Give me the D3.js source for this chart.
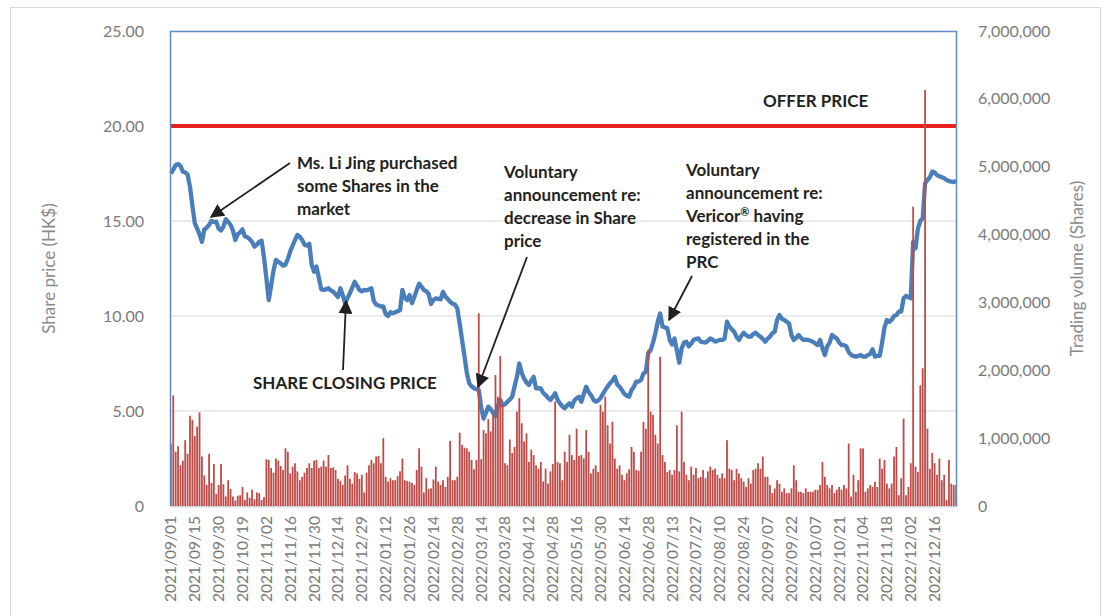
<!DOCTYPE html>
<html>
<head>
<meta charset="utf-8">
<script src="https://cdn.jsdelivr.net/npm/d3@7"></script>
<style>
  body { margin: 0; background: #fff; }
  svg text { font-family: Lato, "Open Sans", sans-serif; }
</style>
</head>
<body>
<div id="chart"></div>
<script>
// x-axis labels: one every 10 trading days
const dateLabels = [
  "2021/09/01", "2021/09/15", "2021/09/30", "2021/10/19", "2021/11/02", "2021/11/16",
  "2021/11/30", "2021/12/14", "2021/12/29", "2022/01/12", "2022/01/26", "2022/02/14",
  "2022/02/28", "2022/03/14", "2022/03/28", "2022/04/12", "2022/04/28", "2022/05/16",
  "2022/05/30", "2022/06/14", "2022/06/28", "2022/07/13", "2022/07/27", "2022/08/10",
  "2022/08/24", "2022/09/07", "2022/09/22", "2022/10/07", "2022/10/21", "2022/11/04",
  "2022/11/18", "2022/12/02", "2022/12/16"
];

// daily closing price (HK$)
const closePrice = [
  17.50, 17.70, 17.95, 18.00, 17.90, 17.60, 17.55, 17.45, 16.80, 15.80,
  14.90, 14.60, 14.30, 13.90, 14.55, 14.65, 14.80, 15.00, 14.95, 14.97,
  14.60, 14.50, 14.70, 15.10, 14.95, 14.80, 14.50, 14.00, 14.30, 14.40,
  14.56, 14.20, 14.15, 14.05, 13.90, 13.65, 13.75, 13.90, 13.96, 13.10,
  12.00, 10.84, 11.60, 12.40, 12.95, 12.85, 12.77, 12.65, 12.70, 13.00,
  13.40, 13.70, 14.00, 14.26, 14.17, 14.00, 13.75, 13.70, 13.80, 12.70,
  12.33, 12.60, 12.00, 11.40, 11.37, 11.40, 11.46, 11.35, 11.28, 11.15,
  11.00, 11.46, 11.10, 10.67, 10.95, 11.20, 11.50, 11.80, 11.60, 11.37,
  11.30, 11.37, 11.35, 11.40, 11.46, 10.80, 10.60, 10.55, 10.50, 10.50,
  10.10, 10.00, 10.20, 10.15, 10.20, 10.25, 10.30, 11.37, 10.95, 10.84,
  11.10, 10.67, 11.00, 11.37, 11.70, 11.55, 11.37, 11.30, 11.16, 10.63,
  10.85, 10.93, 10.90, 10.88, 11.28, 11.02, 10.90, 10.75, 10.65, 10.60,
  10.40, 9.60, 8.74, 7.90, 7.00, 6.46, 6.30, 6.20, 6.15, 6.10,
  5.20, 4.60, 4.90, 5.23, 5.10, 4.90, 4.74, 5.30, 5.58, 5.30,
  5.35, 5.49, 5.60, 5.75, 6.30, 6.80, 7.50, 7.00, 6.70, 6.50,
  6.37, 6.60, 6.80, 6.19, 6.20, 6.19, 5.95, 5.84, 5.70, 5.58,
  5.75, 5.93, 5.60, 5.40, 5.25, 5.14, 5.30, 5.40, 5.23, 5.55,
  5.67, 5.75, 5.49, 5.90, 6.28, 6.00, 5.84, 5.60, 5.49, 5.55,
  5.67, 5.90, 6.10, 6.30, 6.46, 6.60, 6.80, 6.40, 6.28, 6.10,
  5.90, 5.80, 5.75, 6.10, 6.28, 6.54, 6.55, 6.63, 6.98, 7.07,
  8.04, 8.20, 8.60, 9.09, 9.70, 10.14, 9.44, 9.40, 9.35, 8.74,
  8.50, 8.82, 8.20, 7.54, 8.30, 8.60, 8.65, 8.40, 8.55, 8.74,
  8.80, 8.82, 8.65, 8.62, 8.60, 8.70, 8.82, 8.75, 8.65, 8.70,
  8.74, 8.74, 8.80, 9.70, 9.44, 9.30, 9.17, 8.90, 8.74, 8.95,
  9.12, 9.00, 8.91, 8.91, 9.05, 9.12, 9.00, 8.91, 8.80, 8.65,
  8.80, 8.91, 9.10, 9.17, 9.80, 10.05, 9.85, 9.79, 9.70, 9.61,
  9.00, 8.74, 8.85, 9.00, 8.85, 8.74, 8.75, 8.74, 8.70, 8.65,
  8.55, 8.47, 8.74, 8.30, 7.95, 8.40, 8.60, 9.00, 8.90, 8.82,
  8.60, 8.47, 8.47, 8.40, 8.10, 7.95, 7.90, 7.86, 7.90, 7.95,
  7.86, 7.86, 7.95, 8.00, 8.25, 7.86, 7.90, 7.90, 8.60, 9.40,
  9.79, 9.70, 9.80, 10.00, 10.05, 10.23, 10.23, 10.93, 11.05, 11.00,
  10.93, 13.90, 13.56, 14.60, 15.00, 15.14, 16.98, 17.16, 17.30, 17.60,
  17.55, 17.42, 17.35, 17.30, 17.25, 17.16, 17.10, 17.07, 17.05, 17.10
];

// daily trading volume, millions of shares
const volumeMillions = [
  0.92, 1.63, 0.80, 0.88, 0.60, 0.67, 0.97, 0.77, 1.33, 1.27,
  1.03, 1.17, 1.38, 0.73, 0.45, 0.31, 0.77, 0.34, 0.62, 0.18,
  0.31, 0.62, 0.32, 0.14, 0.38, 0.25, 0.14, 0.08, 0.15, 0.16,
  0.28, 0.09, 0.20, 0.12, 0.24, 0.10, 0.20, 0.19, 0.09, 0.13,
  0.69, 0.68, 0.56, 0.49, 0.70, 0.67, 0.59, 0.53, 0.85, 0.80,
  0.48, 0.58, 0.63, 0.51, 0.38, 0.43, 0.49, 0.56, 0.63, 0.56,
  0.67, 0.68, 0.56, 0.58, 0.67, 0.58, 0.75, 0.56, 0.57, 0.53,
  0.40, 0.37, 0.31, 0.45, 0.60, 0.40, 0.33, 0.50, 0.48, 0.40,
  0.46, 0.20, 0.49, 0.60, 0.68, 0.63, 0.73, 0.74, 0.63, 1.00,
  0.43, 0.36, 0.41, 0.38, 0.38, 0.44, 0.51, 0.70, 0.38, 0.37,
  0.36, 0.34, 0.31, 0.53, 0.85, 0.58, 0.20, 0.41, 0.25, 0.26,
  0.39, 0.58, 0.36, 0.31, 0.38, 0.28, 0.43, 0.96, 0.38, 0.38,
  0.43, 1.08, 0.90, 0.86, 0.85, 0.80, 0.68, 0.54, 0.68, 2.84,
  0.69, 1.12, 1.07, 1.28, 1.10, 1.34, 1.93, 1.61, 2.21, 1.49,
  0.63, 0.60, 0.98, 0.78, 0.87, 1.39, 1.59, 1.22, 0.95, 1.07,
  0.65, 0.83, 0.75, 0.60, 0.55, 0.65, 0.36, 0.55, 0.33, 0.51,
  0.62, 1.54, 0.65, 0.63, 0.38, 0.80, 0.65, 1.05, 0.75, 0.68,
  1.14, 0.74, 0.75, 0.70, 1.12, 0.80, 0.48, 0.55, 0.60, 0.50,
  1.49, 1.39, 1.61, 1.19, 0.92, 1.24, 0.70, 0.55, 0.60, 0.46,
  0.38, 0.48, 0.54, 0.87, 0.80, 0.53, 0.52, 0.80, 1.24, 1.14,
  2.30, 1.39, 1.34, 1.05, 0.92, 2.20, 0.75, 0.65, 0.50, 0.53,
  0.46, 0.53, 1.19, 0.51, 1.39, 0.65, 0.46, 0.38, 0.58, 0.46,
  0.56, 0.41, 0.43, 0.53, 0.41, 0.51, 0.58, 0.53, 0.55, 0.46,
  0.41, 0.48, 0.41, 0.97, 0.55, 0.53, 0.38, 0.55, 0.48, 0.41,
  0.36, 0.28, 0.41, 0.33, 0.53, 0.55, 0.63, 0.55, 0.73, 0.43,
  0.43, 0.31, 0.19, 0.26, 0.38, 0.33, 0.21, 0.26, 0.19, 0.19,
  0.26, 0.60, 0.38, 0.21, 0.21, 0.19, 0.26, 0.21, 0.21, 0.21,
  0.24, 0.24, 0.31, 0.65, 0.43, 0.31, 0.26, 0.31, 0.19, 0.24,
  0.28, 0.24, 0.31, 0.26, 0.92, 0.14, 0.46, 0.21, 0.38, 0.85,
  0.85, 0.21, 0.26, 0.31, 0.28, 0.36, 0.28, 0.70, 0.55, 0.68,
  0.33, 0.26, 0.33, 0.73, 0.87, 0.16, 0.41, 1.29, 0.16, 0.28,
  0.63, 4.41, 0.58, 0.50, 1.78, 2.03, 6.13, 1.14, 0.55, 0.78,
  0.63, 0.46, 0.70, 0.38, 0.46, 0.09, 0.68, 0.33, 0.31, 0.31
];

const offerPrice = 20;
const priceTicks = [0, 5, 10, 15, 20, 25];
const volumeTicks = [0, 1e6, 2e6, 3e6, 4e6, 5e6, 6e6, 7e6];

// annotation texts (a line may be split in parts; sup = superscript)
const notes = [
  {lines: [["Ms. Li Jing purchased"], ["some Shares in the"], ["market"]], x: 297, y: 169},
  {lines: [["Voluntary"], ["announcement re:"], ["decrease in Share"], ["price"]], x: 504, y: 178},
  {lines: [["Voluntary"], ["announcement re:"], ["Vericor", "\u00ae", " having"], ["registered in the"], ["PRC"]], x: 686, y: 176},
  {lines: [["OFFER PRICE"]], x: 763, y: 107},
  {lines: [["SHARE CLOSING PRICE"]], x: 253, y: 389}
];
const arrows = [
  {x1: 290, y1: 163, x2: 211, y2: 217},
  {x1: 343, y1: 370, x2: 346, y2: 301},
  {x1: 527, y1: 257, x2: 478, y2: 387},
  {x1: 692, y1: 276, x2: 669, y2: 320}
];

const width = 1104, height = 616;
const margin = {top: 31, right: 147, bottom: 110, left: 170};
const innerW = width - margin.left - margin.right;
const innerH = height - margin.top - margin.bottom;

const svg = d3.select("#chart").append("svg")
  .attr("width", width)
  .attr("height", height);

// outer chart border
svg.append("rect")
  .attr("x", 10.5).attr("y", 7.5)
  .attr("width", 1090).attr("height", 640)
  .attr("fill", "none")
  .attr("stroke", "#d9d9d9");

const g = svg.append("g").attr("transform", `translate(${margin.left},${margin.top})`);

const x = d3.scaleBand()
  .domain(d3.range(closePrice.length))
  .range([0, innerW])
  .paddingInner(0.25);

const yPrice = d3.scaleLinear().domain([0, 25]).range([innerH, 0]);
const yVol = d3.scaleLinear().domain([0, 7e6]).range([innerH, 0]);

// gridlines
g.append("g")
  .selectAll("line")
  .data(priceTicks.filter(d => d > 0 && d < 25))
  .join("line")
  .attr("x1", 0).attr("x2", innerW)
  .attr("y1", d => yPrice(d)).attr("y2", d => yPrice(d))
  .attr("stroke", "#d9d9d9")
  .attr("stroke-width", 1);

// left axis
const leftAxis = g.append("g")
  .call(d3.axisLeft(yPrice).tickValues(priceTicks)
    .tickFormat(d => d === 0 ? "0" : d.toFixed(2)).tickSize(0).tickPadding(26));
leftAxis.select(".domain").remove();
leftAxis.selectAll("text").attr("fill", "#7a7a7a").style("font-size", "16px");

// right axis
const rightAxis = g.append("g")
  .attr("transform", `translate(${innerW},0)`)
  .call(d3.axisRight(yVol).tickValues(volumeTicks).tickFormat(d3.format(",")).tickSize(0).tickPadding(21));
rightAxis.select(".domain").remove();
rightAxis.selectAll("text").attr("fill", "#7a7a7a").style("font-size", "16px");

// bottom axis
const bottomAxis = g.append("g")
  .attr("transform", `translate(0,${innerH})`)
  .call(d3.axisBottom(x)
    .tickValues(dateLabels.map((d, i) => i * 10))
    .tickFormat(i => dateLabels[i / 10])
    .tickSize(0));
bottomAxis.select(".domain").attr("stroke", "#d0d7e3").attr("stroke-width", 2);
bottomAxis.selectAll("text")
  .attr("fill", "#7a7a7a")
  .style("font-size", "15.5px")
  .attr("text-anchor", "end")
  .attr("transform", "rotate(-90)")
  .attr("x", -10)
  .attr("y", 0)
  .attr("dy", "0.35em");

// axis titles
svg.append("text")
  .attr("transform", `translate(55,${margin.top + innerH / 2}) rotate(-90)`)
  .attr("text-anchor", "middle")
  .attr("fill", "#8a8a8a")
  .style("font-size", "17px")
  .text("Share price (HK$)");

svg.append("text")
  .attr("transform", `translate(1083,${margin.top + innerH / 2}) rotate(-90)`)
  .attr("text-anchor", "middle")
  .attr("fill", "#8a8a8a")
  .style("font-size", "17px")
  .text("Trading volume (Shares)");

// price line
const line = d3.line()
  .x((d, i) => x(i) + x.bandwidth() / 2)
  .y(d => yPrice(d));

g.append("path")
  .datum(closePrice)
  .attr("fill", "none")
  .attr("stroke", "#4a7ebb")
  .attr("stroke-width", 4.3)
  .attr("stroke-linejoin", "round")
  .attr("d", line);

// offer price line
g.append("line")
  .attr("x1", 0).attr("x2", innerW)
  .attr("y1", yPrice(offerPrice)).attr("y2", yPrice(offerPrice))
  .attr("stroke", "#e8211d")
  .attr("stroke-width", 4);

// volume bars
g.append("g")
  .selectAll("rect")
  .data(volumeMillions)
  .join("rect")
  .attr("x", (d, i) => x(i))
  .attr("width", x.bandwidth())
  .attr("y", d => yVol(d * 1e6))
  .attr("height", d => innerH - yVol(d * 1e6))
  .attr("fill", "#be4b48");

// plot frame (blue)
g.append("path")
  .attr("d", `M0.5,${innerH} V0.5 H${innerW - 0.5} V${innerH}`)
  .attr("fill", "none")
  .attr("stroke", "#5b8ac6")
  .attr("stroke-width", 1.5);

// arrows
svg.append("defs").append("marker")
  .attr("id", "head")
  .attr("viewBox", "0 0 10 10")
  .attr("refX", 9).attr("refY", 5)
  .attr("markerWidth", 14).attr("markerHeight", 14)
  .attr("markerUnits", "userSpaceOnUse")
  .attr("orient", "auto")
  .append("path")
  .attr("d", "M0,0 L10,5 L0,10 Z")
  .attr("fill", "#231f20");

svg.append("g")
  .selectAll("line")
  .data(arrows)
  .join("line")
  .attr("x1", d => d.x1).attr("y1", d => d.y1)
  .attr("x2", d => d.x2).attr("y2", d => d.y2)
  .attr("stroke", "#231f20")
  .attr("stroke-width", 1.8)
  .attr("marker-end", "url(#head)");

// annotation text
const noteG = svg.append("g");
notes.forEach(n => {
  const t = noteG.append("text")
    .attr("fill", "#231f20")
    .style("font-size", "17px")
    .style("font-weight", "bold");
  n.lines.forEach((parts, i) => {
    parts.forEach((p, k) => {
      const span = t.append("tspan").text(p);
      if (k === 0) span.attr("x", n.x).attr("y", n.y + i * 23);
      if (p === "\u00ae") {
        span.style("font-size", "11px").attr("dy", -6);
      } else if (k > 0 && parts[k - 1] === "\u00ae") {
        span.attr("dy", 6);
      }
    });
  });
});
</script>
</body>
</html>
